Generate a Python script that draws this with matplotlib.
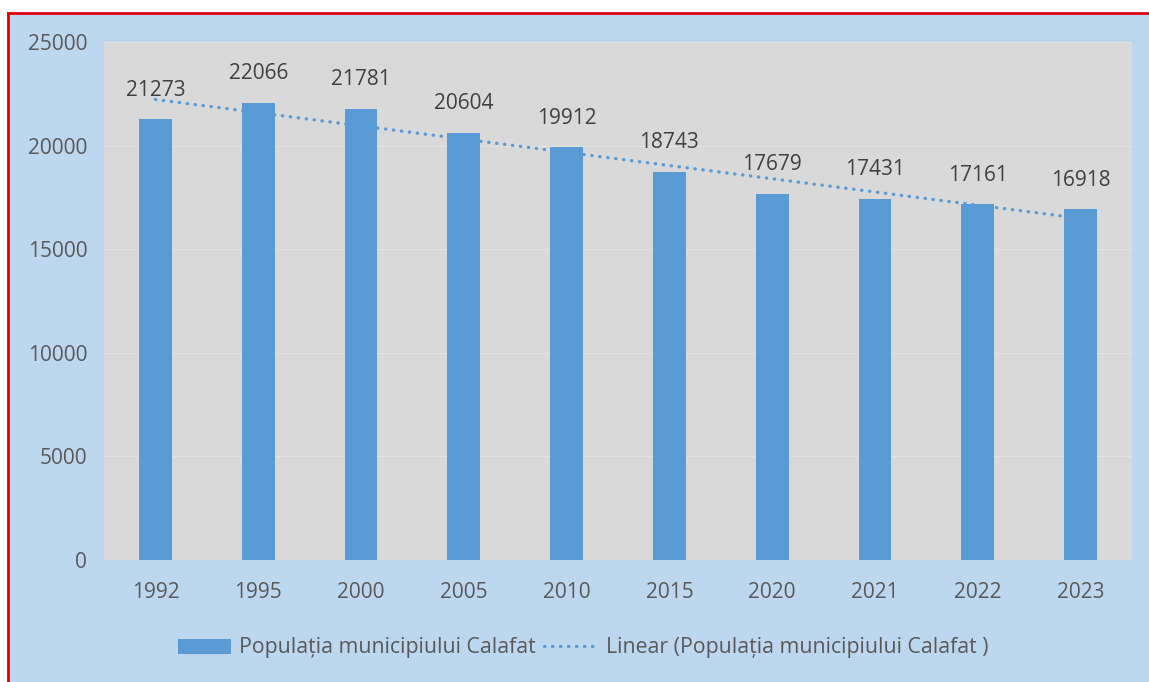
import numpy as np
import matplotlib.pyplot as plt
from matplotlib.patches import Rectangle, Patch
from matplotlib.lines import Line2D

plt.rcParams['font.family'] = ['Open Sans', 'DejaVu Sans']

# Data
years = ['1992', '1995', '2000', '2005', '2010', '2015', '2020', '2021', '2022', '2023']
population = [21273, 22066, 21781, 20604, 19912, 18743, 17679, 17431, 17161, 16918]
series_name = 'Populația municipiului Calafat'
trend_name = 'Linear (Populația municipiului Calafat )'

bar_color = '#5B9BD5'
W, H = 1149, 682
dots = (0, (0.1, 2.3))

fig = plt.figure(figsize=(W / 100, H / 100), dpi=100)
fig.patch.set_facecolor('white')

# light blue chart area with red border (top and left visible)
fig.patches.append(Rectangle((8 / W, 0), 1, 1 - 13 / H, transform=fig.transFigure,
                             facecolor='#BDD7EE', edgecolor='none', zorder=-10))
fig.lines.append(Line2D([8 / W, 1], [1 - 13 / H, 1 - 13 / H], transform=fig.transFigure,
                        color='#E00000', lw=2, zorder=-5))
fig.lines.append(Line2D([8 / W, 8 / W], [0, 1 - 13 / H], transform=fig.transFigure,
                        color='#E00000', lw=2, zorder=-5))

ax = fig.add_axes([104 / W, 1 - 560 / H, (1132 - 104) / W, (560 - 42) / H])
ax.set_zorder(1)
ax.set_facecolor('#D9D9D9')

x = np.arange(len(years))
ax.bar(x, population, width=0.32, color=bar_color, zorder=3)

# linear trendline (least squares on category index)
slope, intercept = np.polyfit(x, population, 1)
ax.plot(x, intercept + slope * x, color=bar_color, lw=2.4,
        linestyle=dots, dash_capstyle='round', zorder=2)

for xi, v in zip(x, population):
    ax.annotate(str(v), (xi, v), xytext=(0, 21), textcoords='offset points',
                ha='center', va='center', fontsize=15, color='#404040', zorder=4)

ax.set_xlim(-0.5, len(years) - 0.5)
ax.set_ylim(0, 25000)
ax.set_yticks(range(0, 25001, 5000))
ax.set_xticks(x)
ax.set_xticklabels(years)
ax.tick_params(length=0, labelsize=15, labelcolor='#595959')
ax.tick_params(axis='y', pad=12)
ax.tick_params(axis='x', pad=16)
ax.grid(axis='y', color='#E2E2E2', lw=0.8, zorder=1)
ax.set_axisbelow(True)
for s in ax.spines.values():
    s.set_visible(False)

handles = [Patch(facecolor=bar_color, edgecolor='none'),
           Line2D([], [], color=bar_color, lw=2.4, linestyle=dots,
                  dash_capstyle='round')]
fig.legend(handles, [series_name, trend_name], loc='center',
           bbox_to_anchor=(583 / W, 1 - 648 / H), ncol=2, frameon=False,
           fontsize=15.3, labelcolor='#595959', handlelength=2.5,
           handletextpad=0.4, columnspacing=0.4)

fig.savefig('out.png', dpi=100)
